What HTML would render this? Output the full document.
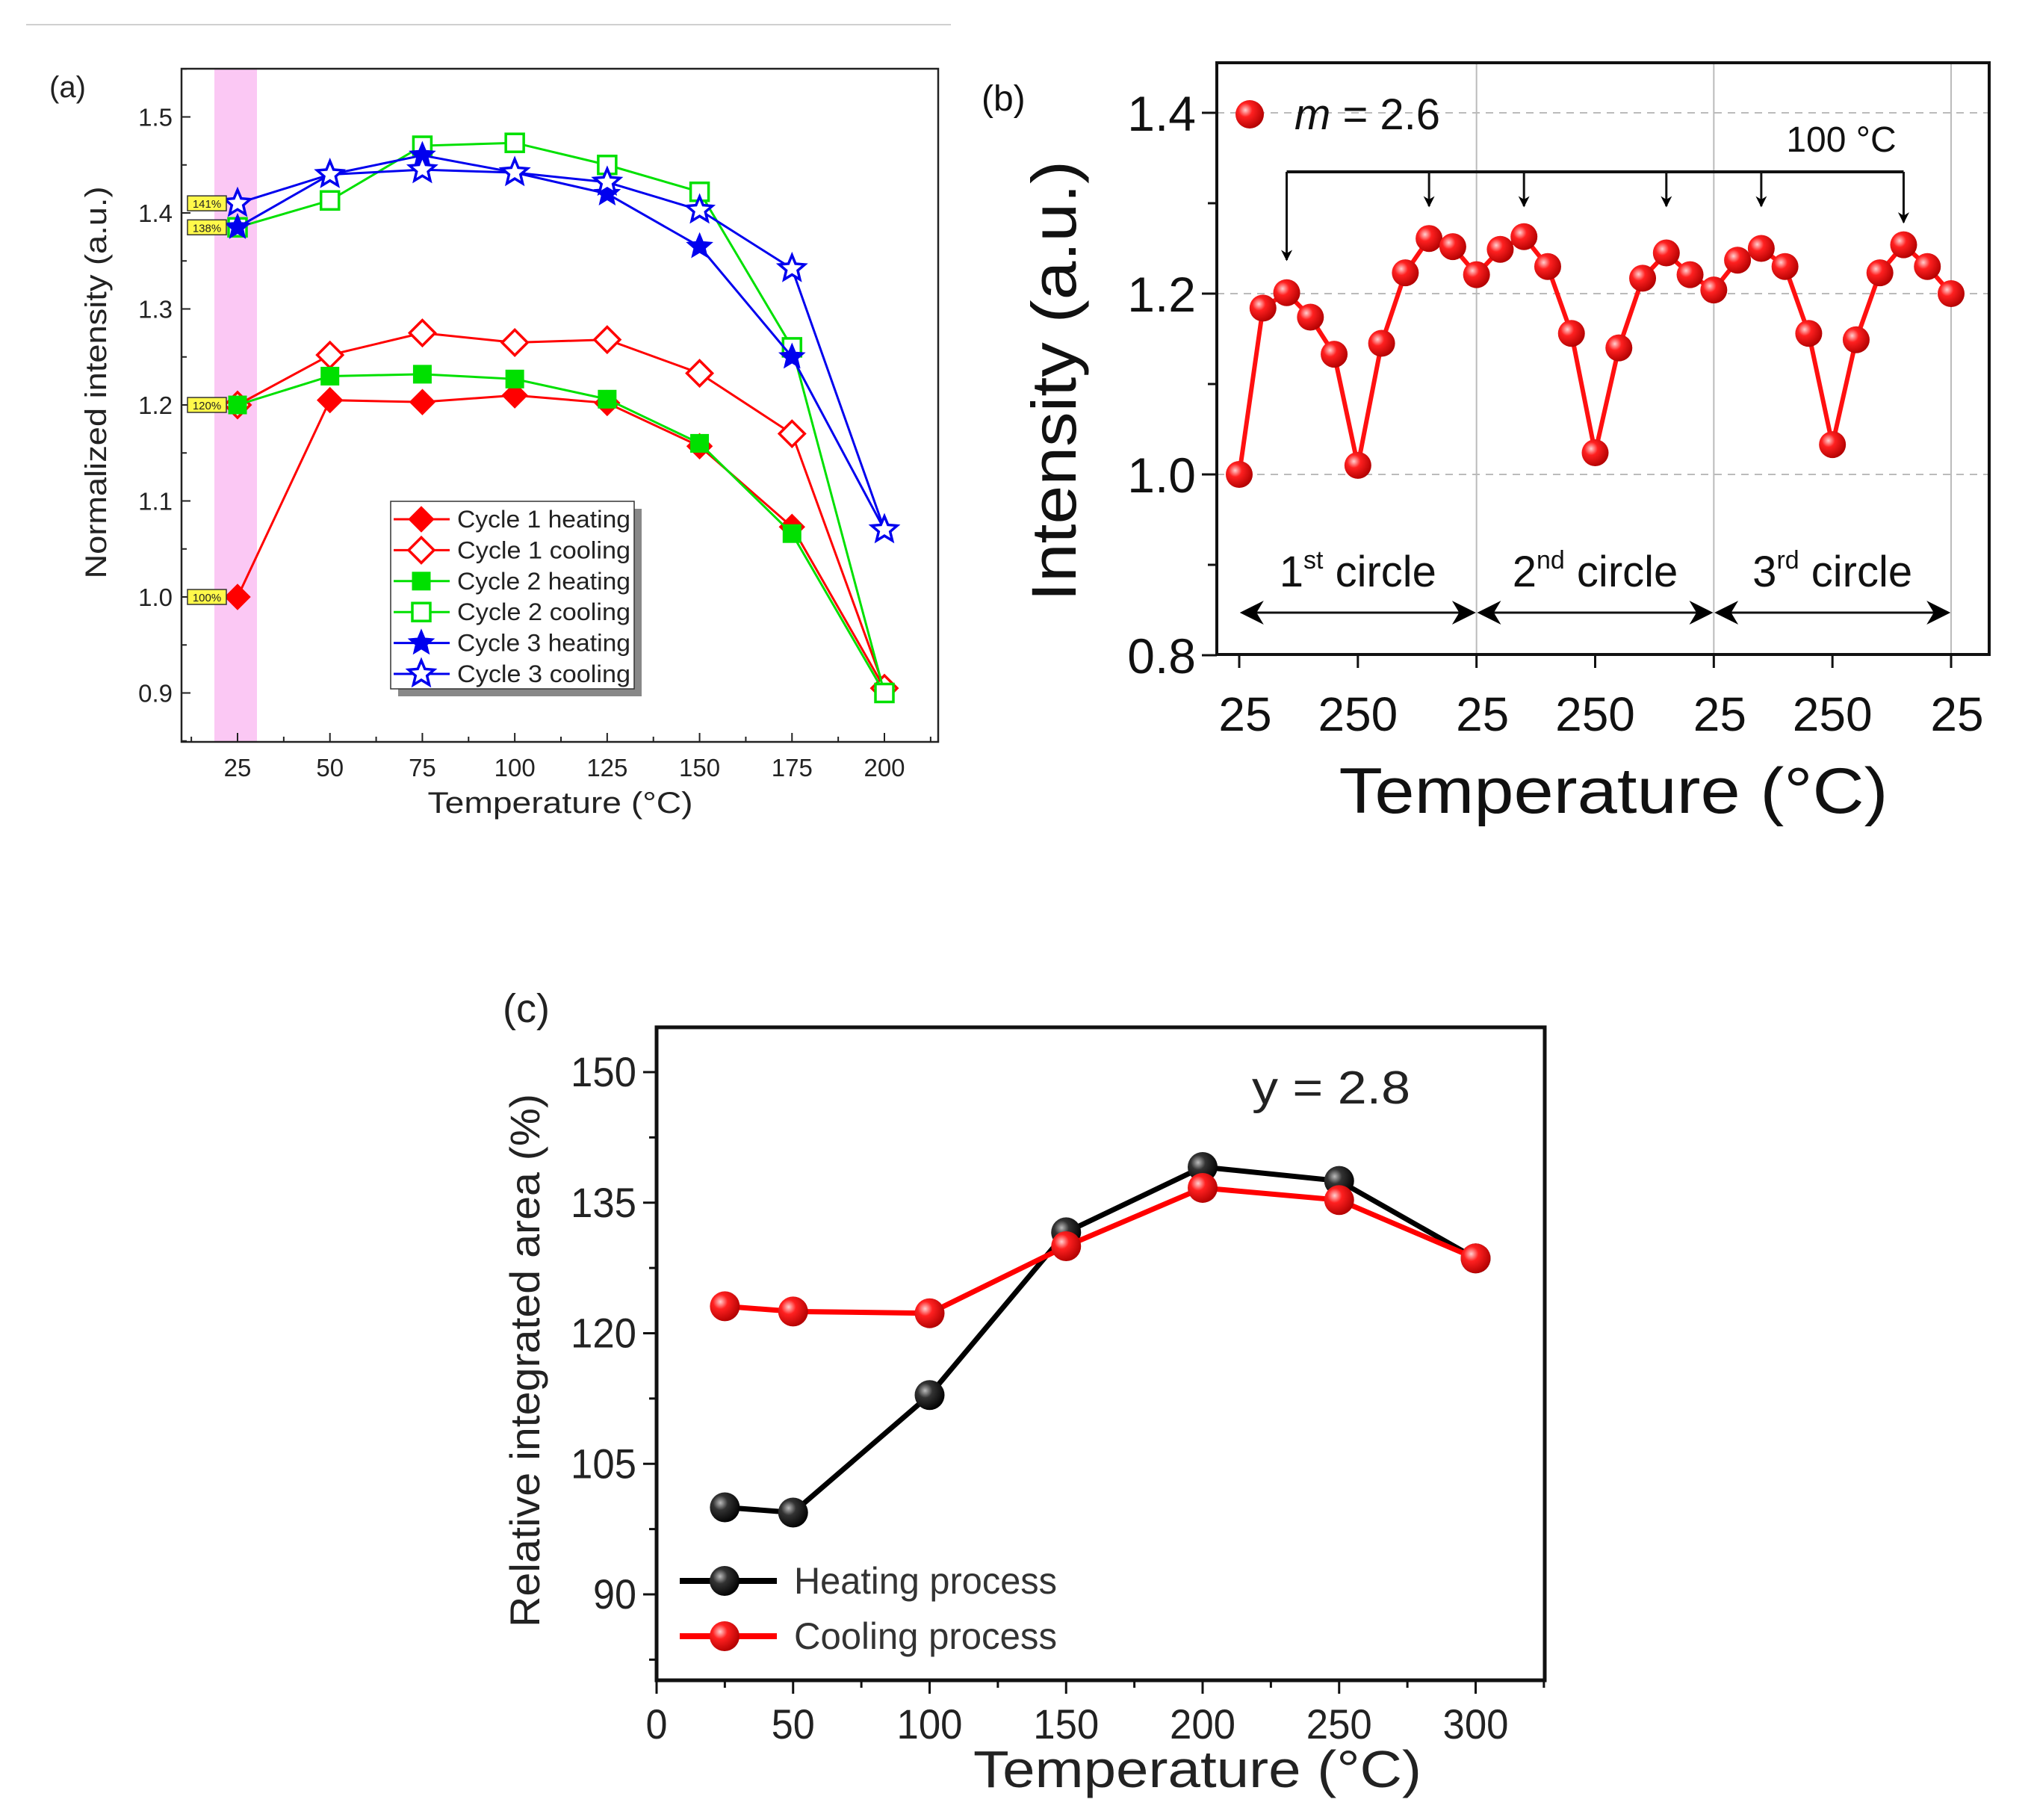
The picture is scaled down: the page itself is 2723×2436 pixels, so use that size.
<!DOCTYPE html>
<html><head><meta charset="utf-8"><style>
html,body{margin:0;padding:0;background:#fff;}
svg{display:block;font-family:"Liberation Sans",Arial,sans-serif;}
</style></head><body>
<svg id="s" width="2723" height="2436" viewBox="0 0 2723 2436" xmlns="http://www.w3.org/2000/svg">
<defs>
<radialGradient id="gR" cx="0.35" cy="0.35" r="0.7"><stop offset="0" stop-color="#ffd0d0"/><stop offset="0.35" stop-color="#ff2020"/><stop offset="1" stop-color="#b00000"/></radialGradient>
<radialGradient id="gK" cx="0.35" cy="0.35" r="0.7"><stop offset="0" stop-color="#bbbbbb"/><stop offset="0.35" stop-color="#333"/><stop offset="1" stop-color="#000"/></radialGradient>
<marker id="ah" viewBox="0 0 10 10" refX="9" refY="5" markerWidth="5" markerHeight="5" orient="auto"><path d="M0,0 L10,5 L0,10 L3,5z" fill="#000"/></marker>
<marker id="ahBig" viewBox="0 0 10 10" refX="9" refY="5" markerWidth="32" markerHeight="32" markerUnits="userSpaceOnUse" orient="auto-start-reverse"><path d="M0,0 L10,5 L0,10 L3,5z" fill="#000"/></marker>
</defs>
<line x1="35" y1="33" x2="1273" y2="33" stroke="#d0d0d0" stroke-width="2"/>
<g id="ga"></g>
<g id="gb"></g>
<g id="gc"></g>
</svg>
<script>
// ---------- Panel (a) data ----------
const aTemps = [25,50,75,100,125,150,175,200];
const aC1Heat = [1.0,1.205,1.203,1.21,1.202,1.157,1.073,0.905];
const aC1Cool = [1.2,1.252,1.275,1.265,1.268,1.233,1.17,0.905];
const aC2Heat = [1.2,1.23,1.232,1.227,1.206,1.16,1.066,0.9];
const aC2Cool = [1.385,1.413,1.47,1.473,1.45,1.422,1.26,0.9];
const aC3Heat = [1.385,1.44,1.46,1.442,1.42,1.365,1.25,1.07];
const aC3Cool = [1.41,1.44,1.445,1.442,1.432,1.403,1.342,1.07];
const aYTicks = [0.9,1.0,1.1,1.2,1.3,1.4,1.5];
const aXTicks = [25,50,75,100,125,150,175,200];
const aBadges = [["141%",1.41],["138%",1.385],["120%",1.2],["100%",1.0]];
// ---------- Panel (b) data ----------
const bValues = [1.0,1.184,1.201,1.174,1.133,1.01,1.145,1.223,1.261,1.252,1.221,
  1.249,1.263,1.23,1.156,1.024,1.14,1.217,1.245,1.221,1.204,
  1.237,1.25,1.23,1.156,1.033,1.149,1.223,1.254,1.23,1.2];
const bYTicks = [0.8,1.0,1.2,1.4];
const bXTickLabels = ["25","250","25","250","25","250","25"];
const bArrowIdx = [2,8,12,18,22,28];
// ---------- Panel (c) data ----------
const cTemps = [25,50,100,150,200,250,300];
const cHeating = [100.0,99.4,112.9,131.6,139.1,137.5,128.6];
const cCooling = [123.1,122.5,122.3,130.0,136.7,135.3,128.6];
const cYTicks = [90,105,120,135,150];
const cXTicks = [0,50,100,150,200,250,300];

const NS="http://www.w3.org/2000/svg";
function mk(parent,tag,attrs,text){const e=document.createElementNS(NS,tag);for(const k in attrs)e.setAttribute(k,attrs[k]);if(attrs.textLength)e.setAttribute("lengthAdjust","spacingAndGlyphs");if(text!==undefined)e.textContent=text;parent.appendChild(e);return e;}
function starPath(cx,cy,r){let d="";for(let i=0;i<10;i++){const rr=i%2?r*0.45:r;const a=-Math.PI/2+i*Math.PI/5;d+=(i?"L":"M")+(cx+rr*Math.cos(a)).toFixed(1)+","+(cy+rr*Math.sin(a)).toFixed(1);}return d+"Z";}
function drawMarker(g,type,x,y,color,filled){
  let e;
  if(type==="diamond"){const r=17;e=mk(g,"path",{d:`M${x},${y-r}L${x+r},${y}L${x},${y+r}L${x-r},${y}Z`});}
  else if(type==="square"){const r=12;e=mk(g,"rect",{x:x-r,y:y-r,width:2*r,height:2*r});}
  else {e=mk(g,"path",{d:starPath(x,y,18)});}
  e.setAttribute("fill",filled?color:"#fff");e.setAttribute("stroke",color);e.setAttribute("stroke-width",filled?1:3.5);
  
  
  return e;
}

// ===== Panel A =====
(function(){
const g=document.getElementById("ga");
const L=243,R=1256,T=92,B=993;
const xS=v=>318+(v-25)*(1184-318)/175;
const yS=v=>927.5-(v-0.9)*(927.5-156.5)/0.6;
mk(g,"rect",{x:287,y:T,width:57,height:B-T,fill:"#fbc8f4",});
mk(g,"rect",{x:L,y:T,width:R-L,height:B-T,fill:"none",stroke:"#222","stroke-width":2.5,});
for(let v=0.85;v<=1.551;v+=0.05){const y=yS(v);const maj=Math.abs(Math.round(v*10)-v*10)<0.01;mk(g,"line",{x1:L,x2:L+(maj?12:7),y1:y,y2:y,stroke:"#222","stroke-width":2,});}
aYTicks.forEach(v=>{mk(g,"text",{x:L-12,y:yS(v)+12,"text-anchor":"end","font-size":33,fill:"#222",},v.toFixed(1));});
for(let v=12.5;v<=212.5;v+=12.5){const x=xS(v);if(x<L||x>R)continue;const maj=v%25===0;mk(g,"line",{x1:x,x2:x,y1:B,y2:B-(maj?12:7),stroke:"#222","stroke-width":2,});}
aXTicks.forEach(v=>{mk(g,"text",{x:xS(v),y:1039,"text-anchor":"middle","font-size":33,fill:"#222",},String(v));});
mk(g,"text",{x:750,y:1088,"text-anchor":"middle","font-size":40,fill:"#222",textLength:355,},"Temperature (°C)");
mk(g,"text",{x:0,y:0,transform:"translate(142,512) rotate(-90)","text-anchor":"middle","font-size":40,fill:"#222",textLength:525,},"Normalized intensity (a.u.)");
mk(g,"text",{x:66,y:130,"font-size":40,fill:"#222",},"(a)");
const series=[[aC1Heat,"#ff0000","diamond",true,"cycle-1-heating"],[aC1Cool,"#ff0000","diamond",false,"cycle-1-cooling"],[aC2Heat,"#00e000","square",true,"cycle-2-heating"],[aC2Cool,"#00e000","square",false,"cycle-2-cooling"],[aC3Heat,"#0000ee","star",true,"cycle-3-heating"],[aC3Cool,"#0000ee","star",false,"cycle-3-cooling"]];
series.forEach(s=>{const sg=mk(g,"g",{});
  mk(sg,"polyline",{points:s[0].map((v,i)=>xS(aTemps[i])+","+yS(v)).join(" "),fill:"none",stroke:s[1],"stroke-width":3,});
  s[0].forEach((v,i)=>drawMarker(sg,s[2],xS(aTemps[i]),yS(v),s[1],s[3]));});
aBadges.forEach(b=>{const y=yS(b[1]);const bg=mk(g,"g",{});
  mk(bg,"rect",{x:251,y:y-10,width:52,height:20,fill:"#fff94a",stroke:"#333","stroke-width":1.5});
  mk(bg,"text",{x:277,y:y+6,"text-anchor":"middle","font-size":15,fill:"#222"},b[0]);});
// legend
const lg=mk(g,"g",{});
mk(lg,"rect",{x:533,y:681,width:326,height:251,fill:"#888"});
mk(lg,"rect",{x:523,y:671,width:326,height:251,fill:"#fff",stroke:"#333","stroke-width":1.5});
const names=["Cycle 1 heating","Cycle 1 cooling","Cycle 2 heating","Cycle 2 cooling","Cycle 3 heating","Cycle 3 cooling"];
series.forEach((s,i)=>{const y=695+i*41.4;const eg=mk(lg,"g",{});
  mk(eg,"line",{x1:527,x2:602,y1:y,y2:y,stroke:s[1],"stroke-width":3});drawMarker(eg,s[2],564,y,s[1],s[3]);
  mk(eg,"text",{x:612,y:y+11,"font-size":32,fill:"#222",textLength:232},names[i]);});
})();

// ===== Panel B =====
(function(){
const g=document.getElementById("gb");
const L=1629,R=2663,T=84,B=876;
const xS=i=>1659+i*(2612-1659)/30;
const yS=v=>635-(v-1.0)*(635-393)/0.2;
[1.0,1.2,1.4].forEach(v=>mk(g,"line",{x1:L,x2:R,y1:yS(v),y2:yS(v),stroke:"#bbb","stroke-width":2,"stroke-dasharray":"10,8",}));
[10,20,30].forEach(i=>mk(g,"line",{x1:xS(i),x2:xS(i),y1:T,y2:B,stroke:"#bbb","stroke-width":2,}));
mk(g,"rect",{x:L,y:T,width:R-L,height:B-T,fill:"none",stroke:"#111","stroke-width":4,});
for(let v=0.8;v<=1.41;v+=0.1){const maj=Math.round(v*10)%2===0;mk(g,"line",{x1:L-(maj?20:12),x2:L,y1:yS(v),y2:yS(v),stroke:"#111","stroke-width":3,});}
bYTicks.forEach(v=>mk(g,"text",{x:L-28,y:yS(v)+24,"text-anchor":"end","font-size":66,fill:"#111",},v.toFixed(1)));
bXTickLabels.forEach((t,k)=>{const x=xS(k*5);mk(g,"line",{x1:x,x2:x,y1:B,y2:B+18,stroke:"#111","stroke-width":3,});
  mk(g,"text",{x:x+(t.length===2?8:0),y:978,"text-anchor":"middle","font-size":64,fill:"#111",},t);});
mk(g,"text",{x:2160,y:1088,"text-anchor":"middle","font-size":86,fill:"#111",textLength:735,},"Temperature (°C)");
mk(g,"text",{x:0,y:0,transform:"translate(1440,510) rotate(-90)","text-anchor":"middle","font-size":84,fill:"#111",textLength:590,},"Intensity (a.u.)");
mk(g,"text",{x:1314,y:148,"font-size":48,fill:"#111",},"(b)");
const sg=mk(g,"g",{});
mk(sg,"polyline",{points:bValues.map((v,i)=>xS(i)+","+yS(v)).join(" "),fill:"none",stroke:"#ff1010","stroke-width":6,});
bValues.forEach((v,i)=>{const c=mk(sg,"circle",{cx:xS(i),cy:yS(v),r:18,fill:"url(#gR)"});
  
  });
// legend
mk(g,"circle",{cx:1673,cy:153,r:19,fill:"url(#gR)",});
const lt=mk(g,"text",{x:1733,y:173,"font-size":58,fill:"#111",});
mk(lt,"tspan",{"font-style":"italic"},"m");mk(lt,"tspan",{},"\u00a0= 2.6");
// bracket
const br=mk(g,"g",{});
const xs=bArrowIdx.map(i=>xS(i));
mk(br,"line",{x1:xs[0],x2:xs[5],y1:230,y2:230,stroke:"#111","stroke-width":4});
xs.forEach((x,k)=>{const tip=yS(bValues[bArrowIdx[k]])-30;mk(br,"line",{x1:x,x2:x,y1:230,y2:Math.min(tip,k===0?348:(k===5?300:276)),stroke:"#111","stroke-width":3,"marker-end":"url(#ah)"});});
mk(g,"text",{x:2465,y:203,"text-anchor":"middle","font-size":48,fill:"#111",},"100 °C");
// circle labels
const lbls=[["1","st"],["2","nd"],["3","rd"]];
lbls.forEach((l,k)=>{const x0=xS(k*10),x1=xS(k*10+10);const cg=mk(g,"g",{});
  mk(cg,"line",{x1:x0+4,x2:x1-4,y1:820,y2:820,stroke:"#111","stroke-width":3,"marker-start":"url(#ahBig)","marker-end":"url(#ahBig)"});
  const t=mk(cg,"text",{x:(x0+x1)/2,y:785,"text-anchor":"middle","font-size":58,fill:"#111"});
  mk(t,"tspan",{},l[0]);mk(t,"tspan",{"font-size":34,dy:-24},l[1]);mk(t,"tspan",{dy:24},"\u00a0circle");});
})();

// ===== Panel C =====
(function(){
const g=document.getElementById("gc");
const L=879,R=2068,T=1375,B=2249;
const xS=v=>879+v*(1975.5-879)/300;
const yS=v=>1435+(150-v)*(2134-1435)/60;
mk(g,"rect",{x:L,y:T,width:R-L,height:B-T,fill:"none",stroke:"#111","stroke-width":5,});
for(let v=82.5;v<=150.1;v+=7.5){const maj=v%15===0;mk(g,"line",{x1:L-(maj?18:10),x2:L,y1:yS(v),y2:yS(v),stroke:"#111","stroke-width":3,});}
cYTicks.forEach(v=>mk(g,"text",{x:852,y:yS(v)+19,"text-anchor":"end","font-size":56,fill:"#222",textLength:v>=100?88:58,},String(v)));
for(let v=0;v<=325;v+=25){const maj=v%50===0;mk(g,"line",{x1:xS(v),x2:xS(v),y1:B,y2:B+(maj?18:10),stroke:"#111","stroke-width":3,});}
cXTicks.forEach(v=>mk(g,"text",{x:xS(v),y:2327,"text-anchor":"middle","font-size":56,fill:"#222",textLength:v>=100?88:(v>0?58:29),},String(v)));
mk(g,"text",{x:1603,y:2392,"text-anchor":"middle","font-size":70,fill:"#222",textLength:600,},"Temperature (°C)");
mk(g,"text",{x:0,y:0,transform:"translate(722,1821) rotate(-90)","text-anchor":"middle","font-size":56,fill:"#222",textLength:714,},"Relative integrated area (%)");
mk(g,"text",{x:673,y:1368,"font-size":54,fill:"#222",},"(c)");
mk(g,"text",{x:1676,y:1477,"font-size":62,fill:"#222",textLength:212,},"y = 2.8");
const series=[[cHeating,"#000","url(#gK)","heating"],[cCooling,"#ff0000","url(#gR)","cooling"]];
series.forEach(s=>{const sg=mk(g,"g",{});
  mk(sg,"polyline",{points:s[0].map((v,i)=>xS(cTemps[i])+","+yS(v)).join(" "),fill:"none",stroke:s[1],"stroke-width":7,});
  s[0].forEach((v,i)=>{const c=mk(sg,"circle",{cx:xS(cTemps[i]),cy:yS(v),r:20,fill:s[2]});
    
    });});
const lg=mk(g,"g",{});
[["Heating process","#000","url(#gK)",2116],["Cooling process","#ff0000","url(#gR)",2190]].forEach(e=>{const eg=mk(lg,"g",{});
  mk(eg,"line",{x1:910,x2:1040,y1:e[3],y2:e[3],stroke:e[1],"stroke-width":8});
  mk(eg,"circle",{cx:970,cy:e[3],r:20,fill:e[2]});
  mk(eg,"text",{x:1063,y:e[3]+17,"font-size":50,fill:"#333",textLength:352},e[0]);});
})();
</script>
</body></html>
